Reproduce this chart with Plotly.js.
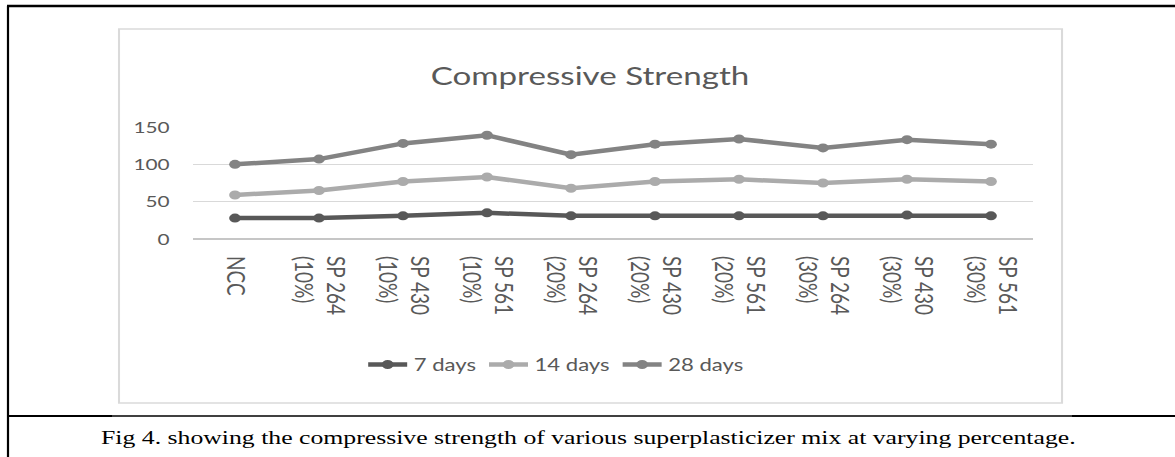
<!DOCTYPE html>
<html>
<head>
<meta charset="utf-8">
<script src="https://cdn.plot.ly/plotly-3.0.1.min.js"></script>
<style>
html,body{margin:0;padding:0;background:#fff;overflow:hidden;width:1175px;height:457px;}
#wrap{width:904px;height:457px;transform:scaleX(1.2998);transform-origin:0 0;}
</style>
</head>
<body>
<div id="wrap"><div id="chart" style="width:904px;height:457px;"></div></div>
<script>
var categories = ['NCC','SP 264<br>(10%)','SP 430<br>(10%)','SP 561<br>(10%)','SP 264<br>(20%)','SP 430<br>(20%)','SP 561<br>(20%)','SP 264<br>(30%)','SP 430<br>(30%)','SP 561<br>(30%)'];
var days7  = [28, 28, 31, 35, 31, 31, 31, 31, 32, 31];
var days14 = [59, 65, 77, 83, 68, 77, 80, 75, 80, 77];
var days28 = [100, 107, 128, 139, 113, 127, 134, 122, 133, 127];
var seriesNames = ['7 days', '14 days', '28 days'];
var yTicks = [0, 50, 100, 150];
var chartTitle = 'Compressive Strength';
var caption = 'Fig 4. showing the compressive strength of various superplasticizer mix at varying percentage.';

var W = 1175, H = 457;
function px(x){return x / W;}
function py(y){return 1 - y / H;}

var colors = ['#585858', '#ababab', '#838383'];
var data = [days7, days14, days28].map(function(vals, i){
  return {
    type: 'scatter', mode: 'lines+markers', x: categories, y: vals, name: seriesNames[i],
    line: {color: colors[i], width: 4.5}, marker: {color: colors[i], size: 9},
    cliponaxis: false
  };
});

var font = 'Lato, "Open Sans", sans-serif';
var layout = {
  width: 904, height: 457,
  margin: {l: 0, r: 0, t: 0, b: 0, pad: 0},
  paper_bgcolor: '#ffffff', plot_bgcolor: 'rgba(0,0,0,0)',
  showlegend: true,
  title: {text: chartTitle, x: px(590), xanchor: 'center', xref: 'paper', y: py(76), yanchor: 'middle', yref: 'paper',
          font: {family: font, size: 25.5, color: '#595959'}},
  xaxis: {
    domain: [px(193), px(1033)], type: 'category', range: [-0.5, 9.5],
    showgrid: false, zeroline: false, showline: false, ticks: '',
    tickangle: 90, ticklabelstandoff: 16,
    tickfont: {family: font, size: 19, color: '#595959'}, fixedrange: true
  },
  yaxis: {
    domain: [py(239), py(127)], range: [0, 150], tickvals: yTicks, ticktext: yTicks.map(String),
    showgrid: true, gridcolor: '#d9d9d9', gridwidth: 1.3, zeroline: true, zerolinecolor: '#c6c6c6', zerolinewidth: 1.3,
    showline: false, ticks: '', ticklabelstandoff: 17,
    tickfont: {family: font, size: 16, color: '#595959'}, fixedrange: true
  },
  legend: {orientation: 'h', x: px(556), xanchor: 'center', y: py(365), yanchor: 'middle',
           font: {family: font, size: 17, color: '#595959'}, bgcolor: 'rgba(0,0,0,0)', itemwidth: 30, tracegroupgap: 0},
  shapes: [
    {type: 'rect', xref: 'paper', yref: 'paper', x0: px(119), x1: px(1062), y0: py(403), y1: py(29), line: {color: '#dadada', width: 1.6}},
    {type: 'line', xref: 'paper', yref: 'paper', x0: px(8), x1: px(8), y0: 0, y1: py(6), line: {color: '#000', width: 1.7}},
    {type: 'line', xref: 'paper', yref: 'paper', x0: px(7), x1: 1, y0: py(6), y1: py(6), line: {color: '#000', width: 2.4}},
    {type: 'line', xref: 'paper', yref: 'paper', x0: px(8), x1: 1, y0: py(416), y1: py(416), line: {color: '#000', width: 1.3}},
    {type: 'line', xref: 'paper', yref: 'paper', x0: px(8), x1: px(112), y0: py(416), y1: py(416), line: {color: '#000', width: 2.2}},
    {type: 'line', xref: 'paper', yref: 'paper', x0: px(1072), x1: 1, y0: py(416), y1: py(416), line: {color: '#000', width: 2.2}}
  ],
  annotations: [
    {text: caption, xref: 'paper', yref: 'paper', x: px(588), y: py(437), xanchor: 'center', yanchor: 'middle', showarrow: false,
     font: {family: '"Liberation Serif", "Times New Roman", serif', size: 19.8, color: '#000'}}
  ]
};

Plotly.newPlot('chart', data, layout, {displayModeBar: false, staticPlot: true});
</script>
</body>
</html>
